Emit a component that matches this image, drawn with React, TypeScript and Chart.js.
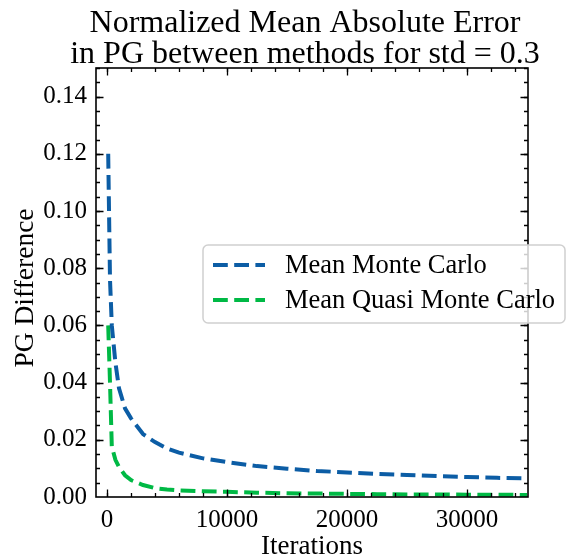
import React, { useEffect, useRef } from "react";
import { Chart, registerables } from "chart.js";

Chart.register(...registerables);

const titleLines = ["Normalized Mean Absolute Error", "in PG between methods for std = 0.3"];
const xLabel = "Iterations";
const yLabel = "PG Difference";

const iterations = [100, 250, 400, 700, 1000, 1500, 2000, 3000, 4000, 5000, 6000, 8000, 10000, 12500, 15000, 17500, 20000, 22500, 25000, 27500, 30000, 32500, 35000];
const monteCarlo = [0.120, 0.076, 0.060, 0.047, 0.038, 0.031, 0.0275, 0.022, 0.0192, 0.0170, 0.0155, 0.0135, 0.0122, 0.0108, 0.0099, 0.0091, 0.0086, 0.0081, 0.0077, 0.0073, 0.0070, 0.0067, 0.0065];
const quasiMonteCarlo = [0.060, 0.040, 0.0176, 0.0130, 0.0105, 0.0076, 0.0059, 0.0042, 0.0031, 0.0026, 0.0023, 0.0020, 0.0018, 0.0015, 0.0013, 0.0012, 0.0011, 0.0010, 0.0009, 0.0009, 0.0008, 0.0008, 0.0007];

const xTicks = [0, 10000, 20000, 30000];
const yTicks = [0, 0.02, 0.04, 0.06, 0.08, 0.1, 0.12, 0.14];
const xMinorStep = 2000;
const yMinorStep = 0.005;

const seriesLabels = ["Mean Monte Carlo", "Mean Quasi Monte Carlo"];
const seriesColors = ["#0C5DA5", "#00B945"];

const FONT = "'Liberation Serif', 'Times New Roman', serif";
const DASH = [14.8, 6.4];

const decorPlugin = {
  id: "decor",
  afterDatasetsDraw(chart: any) {
    const ctx = chart.ctx;
    const { left, right, top, bottom } = chart.chartArea;
    const xs = chart.scales.x;
    const ys = chart.scales.y;
    ctx.save();
    ctx.strokeStyle = "#000";
    ctx.lineWidth = 1.3;
    const drawX = (v: number, len: number) => {
      const p = Math.round(xs.getPixelForValue(v)) + 0.5;
      if (p < left || p > right) return;
      ctx.beginPath();
      ctx.moveTo(p, bottom);
      ctx.lineTo(p, bottom - len);
      ctx.moveTo(p, top);
      ctx.lineTo(p, top + len);
      ctx.stroke();
    };
    const drawY = (v: number, len: number) => {
      const p = Math.round(ys.getPixelForValue(v)) + 0.5;
      if (p < top || p > bottom) return;
      ctx.beginPath();
      ctx.moveTo(left, p);
      ctx.lineTo(left + len, p);
      ctx.moveTo(right, p);
      ctx.lineTo(right - len, p);
      ctx.stroke();
    };
    for (let v = 0; v <= xs.max; v += xMinorStep) drawX(v, 4);
    for (let i = 0; i * yMinorStep <= ys.max + 1e-9; i++) drawY(i * yMinorStep, 4);
    xTicks.forEach((v) => drawX(v, 7.5));
    yTicks.forEach((v) => drawY(v, 7.5));
    ctx.lineWidth = 1.6;
    ctx.strokeRect(left, top, right - left, bottom - top);
    ctx.restore();
  },
  afterDraw(chart: any) {
    const ctx = chart.ctx;
    const { left, right, top, bottom } = chart.chartArea;
    ctx.save();
    ctx.fillStyle = "#000";
    ctx.textAlign = "center";
    ctx.textBaseline = "alphabetic";
    ctx.font = `32px ${FONT}`;
    ctx.fillText(titleLines[0], 305, 32);
    ctx.fillText(titleLines[1], 305, 63);
    ctx.font = `27px ${FONT}`;
    ctx.fillText(xLabel, (left + right) / 2, 554);
    ctx.save();
    ctx.font = `27.5px ${FONT}`;
    ctx.translate(33, 288);
    ctx.rotate(-Math.PI / 2);
    ctx.fillText(yLabel, 0, 0);
    ctx.restore();
    // legend
    const bx = 203, by = 245, bw = 362, bh = 78, r = 5;
    ctx.beginPath();
    ctx.moveTo(bx + r, by);
    ctx.arcTo(bx + bw, by, bx + bw, by + bh, r);
    ctx.arcTo(bx + bw, by + bh, bx, by + bh, r);
    ctx.arcTo(bx, by + bh, bx, by, r);
    ctx.arcTo(bx, by, bx + bw, by, r);
    ctx.closePath();
    ctx.fillStyle = "rgba(255,255,255,0.8)";
    ctx.fill();
    ctx.strokeStyle = "#d0d0d0";
    ctx.lineWidth = 1.5;
    ctx.stroke();
    const rows = [265, 300];
    chart.data.datasets.forEach((ds: any, i: number) => {
      const y = rows[i];
      ctx.beginPath();
      ctx.setLineDash(DASH);
      ctx.lineDashOffset = 0;
      ctx.strokeStyle = ds.borderColor;
      ctx.lineWidth = 4;
      ctx.moveTo(213, y);
      ctx.lineTo(265, y);
      ctx.stroke();
      ctx.setLineDash([]);
      ctx.fillStyle = "#000";
      ctx.textAlign = "left";
      ctx.textBaseline = "middle";
      ctx.font = `26.5px ${FONT}`;
      ctx.fillText(ds.label, 285, y + 1);
    });
    ctx.restore();
  },
};

export default function App() {
  const ref = useRef<HTMLCanvasElement>(null);
  useEffect(() => {
    document.body.style.margin = "0";
    const canvas = ref.current!;
    const chart = new Chart(canvas, {
      type: "line",
      data: {
        datasets: [monteCarlo, quasiMonteCarlo].map((vals, i) => ({
          label: seriesLabels[i],
          data: iterations.map((x, j) => ({ x, y: vals[j] })),
          borderColor: seriesColors[i],
          backgroundColor: seriesColors[i],
          borderWidth: 4,
          borderDash: DASH,
          borderCapStyle: "butt",
          pointRadius: 0,
          tension: 0,
          fill: false,
        })),
      },
      options: {
        animation: false,
        responsive: false,
        devicePixelRatio: 1,
        layout: { padding: { top: 68, right: 38, left: 0, bottom: 0 } },
        plugins: { legend: { display: false }, title: { display: false }, tooltip: { enabled: false } },
        scales: {
          x: {
            type: "linear",
            min: -917,
            max: 35083,
            grid: { display: false, drawTicks: false, tickLength: 0 },
            border: { display: false },
            afterBuildTicks: (s: any) => {
              s.ticks = xTicks.map((v) => ({ value: v }));
            },
            afterFit: (s: any) => {
              s.height = 60;
            },
            ticks: {
              autoSkip: false,
              maxRotation: 0,
              padding: 8,
              color: "#000",
              font: { family: FONT, size: 25 },
              callback: (v: any) => String(v),
            },
          },
          y: {
            type: "linear",
            min: 0,
            max: 0.15,
            grid: { display: false, drawTicks: false, tickLength: 0 },
            border: { display: false },
            afterBuildTicks: (s: any) => {
              s.ticks = yTicks.map((v) => ({ value: v }));
            },
            afterFit: (s: any) => {
              s.width = 96;
            },
            ticks: {
              autoSkip: false,
              padding: 9,
              color: "#000",
              font: { family: FONT, size: 25 },
              callback: (v: any) => Number(v).toFixed(2),
            },
          },
        },
      },
      plugins: [decorPlugin],
    } as any);
    return () => chart.destroy();
  }, []);
  return (
    <div style={{ width: 566, height: 557 }}>
      <canvas ref={ref} width={566} height={557} style={{ display: "block" }} />
    </div>
  );
}
